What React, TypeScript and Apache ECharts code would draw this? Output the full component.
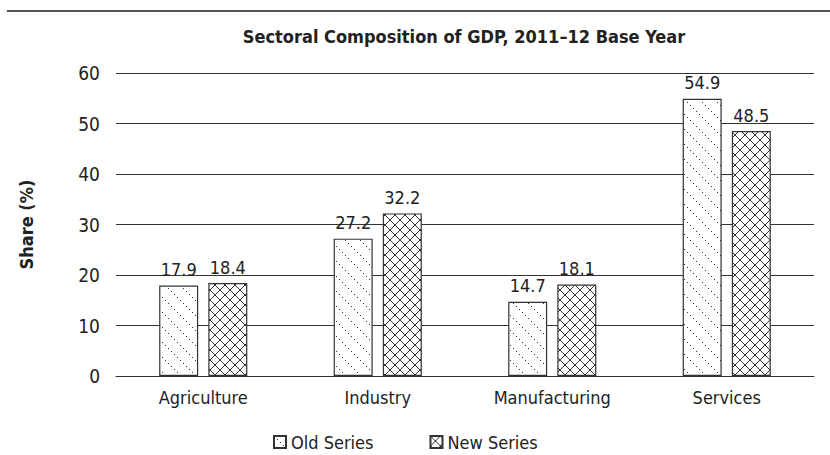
import React, { useEffect, useRef } from "react";
import * as echarts from "echarts";

const categories = ["Agriculture", "Industry", "Manufacturing", "Services"];
const oldSeries = [17.9, 27.2, 14.7, 54.9];
const newSeries = [18.4, 32.2, 18.1, 48.5];
const seriesNames = ["Old Series", "New Series"];
const titleText = "Sectoral Composition of GDP, 2011\u201312 Base Year";
const yAxisName = "Share (%)";

const FONT = "'DejaVu Sans Condensed', sans-serif";
const INK = "#222222";

function makeDotPattern() {
  const s = 15;
  const c = document.createElement("canvas");
  c.width = s;
  c.height = s;
  const ctx = c.getContext("2d")!;
  ctx.fillStyle = "#ffffff";
  ctx.fillRect(0, 0, s, s);
  ctx.fillStyle = "#333333";
  for (let i = 0; i < s; i += 3) {
    ctx.fillRect(i, i, 1, 1);
  }
  return { image: c, repeat: "repeat", imageWidth: s, imageHeight: s } as any;
}

function makeCrossPattern() {
  const s = 10;
  const c = document.createElement("canvas");
  c.width = s;
  c.height = s;
  const ctx = c.getContext("2d")!;
  ctx.fillStyle = "#ffffff";
  ctx.fillRect(0, 0, s, s);
  ctx.strokeStyle = "#333333";
  ctx.lineWidth = 1;
  ctx.beginPath();
  ctx.moveTo(0, 0);
  ctx.lineTo(s, s);
  ctx.moveTo(s, 0);
  ctx.lineTo(0, s);
  ctx.stroke();
  return { image: c, repeat: "repeat", imageWidth: s, imageHeight: s } as any;
}

export default function App() {
  const ref = useRef<HTMLDivElement>(null);
  useEffect(() => {
    if (!ref.current) return;
    const chart = echarts.init(ref.current, undefined, { renderer: "svg" });
    const dot = makeDotPattern();
    const cross = makeCrossPattern();
    const labelStyle = {
      show: true,
      position: "top" as const,
      distance: 7,
      color: INK,
      fontFamily: FONT,
      fontSize: 18,
    };
    chart.setOption({
      animation: false,
      backgroundColor: "#ffffff",
      graphic: [
        {
          type: "line",
          shape: { x1: 7, y1: 11, x2: 830, y2: 11 },
          style: { stroke: "#555555", lineWidth: 2 },
        },
        {
          type: "text",
          x: 464,
          y: 36,
          style: {
            text: titleText,
            textAlign: "center",
            textVerticalAlign: "middle",
            fontFamily: FONT,
            fontWeight: "bold",
            fontSize: 18,
            fill: INK,
          },
        },
      ],
      legend: {
        left: 268,
        top: 428,
        itemWidth: 12,
        itemHeight: 12,
        itemGap: 56,
        icon: "rect",
        data: seriesNames,
        textStyle: { fontFamily: FONT, fontSize: 18, color: INK },
      },
      grid: { left: 116, right: 16, top: 73, bottom: 79, containLabel: false },
      xAxis: {
        type: "category",
        data: categories,
        axisLine: { show: true, lineStyle: { color: "#333333", width: 1 } },
        axisTick: { show: false },
        axisLabel: { interval: 0, color: INK, fontFamily: FONT, fontSize: 18, margin: 12 },
      },
      yAxis: {
        type: "value",
        min: 0,
        max: 60,
        interval: 10,
        name: yAxisName,
        nameLocation: "middle",
        nameRotate: 90,
        nameGap: 81,
        nameTextStyle: { color: INK, fontFamily: FONT, fontSize: 18, fontWeight: "bold" },
        axisLine: { show: false },
        axisTick: { show: false },
        axisLabel: { color: INK, fontFamily: FONT, fontSize: 19, margin: 16 },
        splitLine: { show: true, lineStyle: { color: "#333333", width: 1 } },
      },
      series: [
        {
          name: seriesNames[0],
          type: "bar",
          data: oldSeries,
          barWidth: 39,
          barGap: "26%",
          itemStyle: { color: dot, borderColor: "#333333", borderWidth: 1.2 },
          label: labelStyle,
        },
        {
          name: seriesNames[1],
          type: "bar",
          data: newSeries,
          barWidth: 39,
          barGap: "26%",
          itemStyle: { color: cross, borderColor: "#333333", borderWidth: 1.2 },
          label: labelStyle,
        },
      ],
    });
    return () => chart.dispose();
  }, []);
  return (
    <div
      ref={ref}
      style={{ position: "absolute", left: 0, top: 0, width: 830, height: 455 }}
    />
  );
}
